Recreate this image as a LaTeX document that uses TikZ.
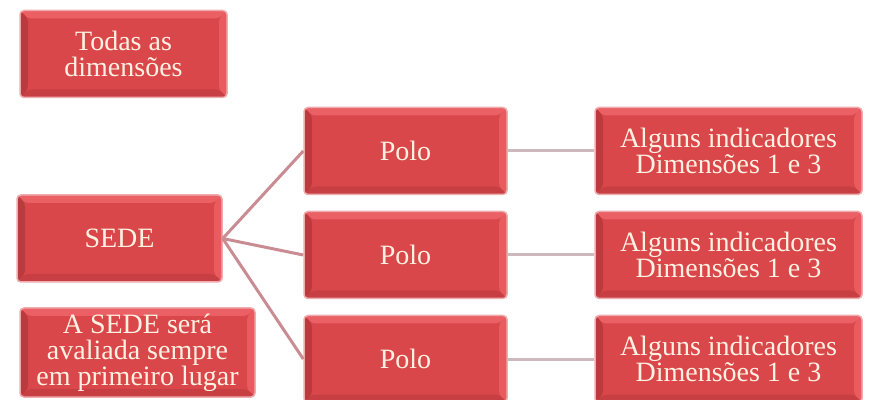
\documentclass[tikz,border=0pt]{standalone}
\usepackage{fontspec}
\setmainfont{Liberation Serif}
\usepackage{tikz}
\usetikzlibrary{positioning}

\definecolor{boxred}{HTML}{D9474B}
\definecolor{bevellight}{HTML}{EA6064}
\definecolor{beveldark}{HTML}{BB3A3E}
\definecolor{boxtext}{HTML}{FFF1E2}
\definecolor{linkred}{HTML}{C98C92}
\definecolor{linkgrey}{HTML}{CDB9BD}

\tikzset{
  redbox/.style={draw=boxred!45, line width=1.5pt, fill=boxred, rounded corners=4pt,
    minimum width=#1, minimum height=87pt, inner sep=0pt, align=center,
    text=boxtext, font=\fontsize{28}{26}\selectfont,
    path picture={
      % bevel of the box
      \fill[bevellight] (path picture bounding box.north west) -- (path picture bounding box.north east)
        -- ([shift={(-8pt,-8pt)}]path picture bounding box.north east) -- ([shift={(8pt,-8pt)}]path picture bounding box.north west) -- cycle;
      \fill[bevellight!85!boxred] (path picture bounding box.north east) -- (path picture bounding box.south east)
        -- ([shift={(-8pt,8pt)}]path picture bounding box.south east) -- ([shift={(-8pt,-8pt)}]path picture bounding box.north east) -- cycle;
      \fill[beveldark] (path picture bounding box.north west) -- ([shift={(8pt,-8pt)}]path picture bounding box.north west)
        -- ([shift={(8pt,8pt)}]path picture bounding box.south west) -- (path picture bounding box.south west) -- cycle;
      \fill[beveldark!60!boxred] (path picture bounding box.south west) -- ([shift={(8pt,8pt)}]path picture bounding box.south west)
        -- ([shift={(-8pt,8pt)}]path picture bounding box.south east) -- (path picture bounding box.south east) -- cycle;
    }},
  link/.style={line width=3pt, draw=linkred},
  linkflat/.style={line width=3pt, draw=linkgrey},
}

\begin{document}
\begin{tikzpicture}[x=1pt,y=1pt]
  \useasboundingbox (0,0) rectangle (870,399);

  % left column
  \node[redbox=207pt] (todas) at (123.5,345) {Todas as\\dimensões};
  \node[redbox=205pt] (sede) at (119.5,160.5) {SEDE};
  \node[redbox=235pt, minimum height=89pt] (nota) at (137.5,46.5) {A SEDE será\\avaliada sempre\\em primeiro lugar};

  % polos and indicators
  \foreach \i/\y in {1/248,2/144,3/40} {
    \node[redbox=203pt] (polo\i) at (405.5,\y) {Polo};
    \node[redbox=267pt] (ind\i) at (728.5,\y) {Alguns indicadores\\Dimensões 1 e 3};
    \draw[link] (sede.east) -- (polo\i.west);
    \draw[linkflat] (polo\i.east) -- (ind\i.west);
  }
\end{tikzpicture}
\end{document}
